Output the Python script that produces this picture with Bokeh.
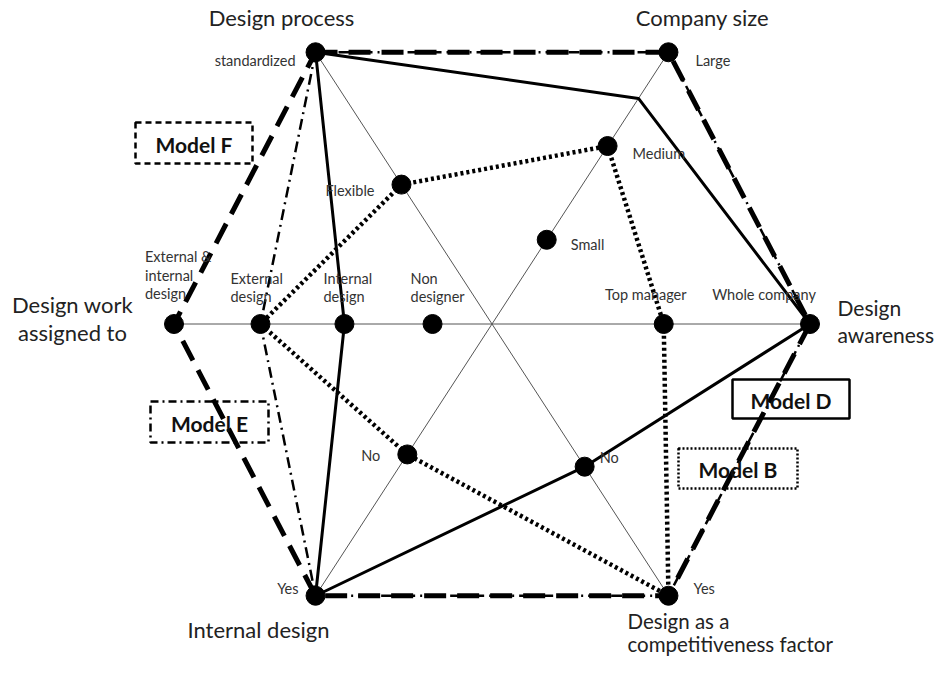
import math
from bokeh.plotting import figure
from bokeh.models import Range1d
from bokeh.core.properties import value
from bokeh.embed import file_html
from bokeh.resources import INLINE

# ---------------- data ----------------
axes = ["Design process", "Company size", "Design awareness",
        "Design as a competitiveness factor", "Internal design",
        "Design work assigned to"]

level_labels = [
    ["Flexible", "standardized"],
    ["Small", "Medium", "Large"],
    ["Top manager", "Whole company"],
    ["No", "Yes"],
    ["No", "Yes"],
    ["Non\ndesigner", "Internal\ndesign", "External\ndesign", "External &\ninternal\ndesign"],
]
level_values = [
    [0.513, 1.0],
    [0.31, 0.655, 1.0],
    [0.54, 1.0],
    [0.525, 1.0],
    [0.48, 1.0],
    [0.187, 0.464, 0.728, 1.0],
]

models = ["Model F", "Model E", "Model D", "Model B"]
model_F = [1.0, 1.0, 1.0, 1.0, 1.0, 1.0]
model_E = [1.0, 1.0, 1.0, 1.0, 1.0, 0.728]
model_D = [1.0, 0.83, 1.0, 0.525, 1.0, 0.464]
model_B = [0.513, 0.655, 0.54, 1.0, 0.48, 0.728]

# ---------------- layout ----------------
W, H = 936, 659
CX, CY = 491.5, 323.5
ANG = 57.0
radii = [324, 324, 318, 324, 324, 318]
angles = [180 - ANG, ANG, 0, -ANG, 180 + ANG, 180]   # math angles (y up)


def pos(i, f):
    a = math.radians(angles[i])
    return CX + f * radii[i] * math.cos(a), CY - f * radii[i] * math.sin(a)


FONT = value("Lato")

p = figure(width=W, height=H, output_backend="svg", toolbar_location=None,
           x_range=Range1d(0, W), y_range=Range1d(H, 0),
           min_border=0, outline_line_color=None)
p.axis.visible = False
p.grid.visible = False

# axis lines (three diameters)
for i, j in [(0, 3), (1, 4), (2, 5)]:
    x0, y0 = pos(i, 1.0)
    x1, y1 = pos(j, 1.0)
    p.line([x0, x1], [y0, y1], line_color="#555555", line_width=1)


def poly(vals):
    pts = [pos(i, v) for i, v in enumerate(vals)]
    pts.append(pts[0])
    return [q[0] for q in pts], [q[1] for q in pts]


xs, ys = poly(model_F)
p.line(xs, ys, line_color="black", line_width=5, line_dash="22 11")
xs, ys = poly(model_E)
p.line(xs, ys, line_color="black", line_width=2.5, line_dash="11 5 2 5")
xs, ys = poly(model_D)
p.line(xs, ys, line_color="black", line_width=3)
xs, ys = poly(model_B)
p.line(xs, ys, line_color="black", line_width=4.5, line_dash="3 3")

# level dots
dx_, dy_ = [], []
for i, vals in enumerate(level_values):
    for v in vals:
        x, y = pos(i, v)
        dx_.append(x); dy_.append(y)
p.scatter(dx_, dy_, size=19, color="black")

# level labels (offsets relative to dots)
offsets = [
    [(-27, 6, "right"), (-20, 8, "right")],
    [(24, 5, "left"), (25, 7, "left"), (27, 8, "left")],
    [(-18, -30, "center"), (-46, -30, "center")],
    [(15, -9, "left"), (25, -7, "left")],
    [(-27, 1, "right"), (-17, -7, "right")],
    [(-22, -19, "left"), (-21, -19, "left"), (-30, -19, "left"), (-29, -22, "left")],
]
for i, vals in enumerate(level_values):
    for k, v in enumerate(vals):
        x, y = pos(i, v)
        ox, oy, al = offsets[i][k]
        lbl = level_labels[i][k]
        if "\n" not in lbl:
            p.text([x + ox], [y + oy], text=[lbl], text_font=FONT,
                   text_font_size="14.5px", text_color="#333333",
                   text_align=al, text_baseline="middle")
        else:
            p.text([x + ox], [y + oy], text=[lbl], text_font=FONT,
                   text_font_size="14.5px", text_color="#333333",
                   text_align=al, text_baseline="bottom", text_line_height=1.08)

# axis titles
title_pos = [
    (281, 3, "center", 22, 1.06, "Design process"),
    (702, 3, "center", 22, 1.06, "Company size"),
    (837, 294, "left", 21, 1.1, "Design\nawareness"),
    (627, 608, "left", 20.5, 0.98, "Design as a\ncompetitiveness factor"),
    (258, 615, "center", 22, 1.06, "Internal design"),
    (72, 290, "center", 22, 1.06, "Design work\nassigned to"),
]
for x, y, al, fs, lh, t in title_pos:
    p.text([x], [y], text=[t], text_font=FONT, text_font_size=f"{fs}px",
           text_color="#222222", text_align=al, text_baseline="top",
           text_line_height=lh)

# legend boxes
boxes = [
    (135, 122, 252, 163, "6 4", "Model F"),
    (150, 401, 268, 442, "8 4 2 4", "Model E"),
    (732, 379, 849, 418, "solid", "Model D"),
    (678, 448, 797, 488, "2 2", "Model B"),
]
for x0, y0, x1, y1, dash, name in boxes:
    p.quad(left=[x0], right=[x1], top=[y0], bottom=[y1], fill_alpha=0,
           line_color="black", line_width=2.5, line_dash=dash)
    p.text([(x0 + x1) / 2], [(y0 + y1) / 2 + 1], text=[name], text_font=FONT,
           text_font_size="21px", text_font_style="bold", text_color="#111111",
           text_align="center", text_baseline="middle")

open("out.html", "w").write(file_html(p, INLINE))
